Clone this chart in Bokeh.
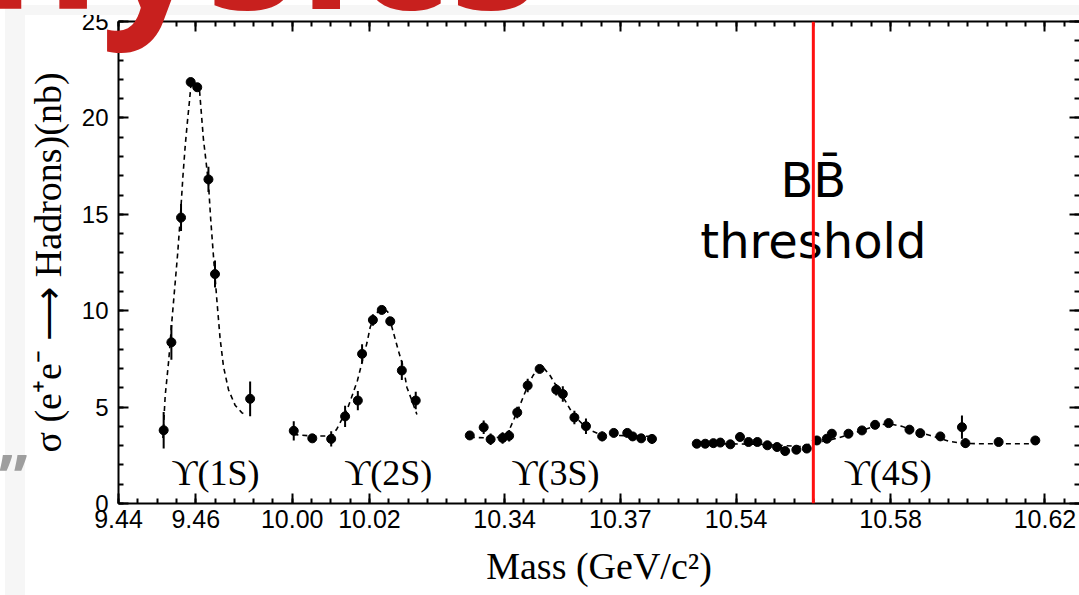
from bokeh.plotting import figure
from bokeh.models import Range1d, LinearAxis, FixedTicker, Span, Div
from bokeh.layouts import column
from bokeh.core.properties import value
from bokeh.embed import file_html
from bokeh.resources import INLINE

# ---------------- data ----------------
# Upsilon(1S) scan
mass_1s = [9.4517, 9.4537, 9.4562, 9.4587, 9.4604, 9.4633, 9.4650, 9.4741]
sigma_1s = [3.80, 8.36, 14.83, 21.86, 21.59, 16.81, 11.90, 5.43]
err_1s = [0.95, 0.90, 0.70, 0.20, 0.20, 0.65, 0.70, 0.90]
fit_mass_1s = [9.4515, 9.4521, 9.4530, 9.4538, 9.4547, 9.4553, 9.4560, 9.4567, 9.4573,
               9.4579, 9.4584, 9.4588, 9.4599, 9.4610, 9.4614, 9.4620, 9.4627, 9.4633,
               9.4639, 9.4648, 9.4655, 9.4663, 9.4672, 9.4685, 9.4702, 9.4720, 9.4731]
fit_sigma_1s = [3.4, 5.6, 7.4, 9.4, 11.5, 12.9, 14.8, 17.0, 18.6, 19.9, 20.9, 21.8, 21.8,
                21.4, 20.4, 18.9, 17.7, 16.6, 14.7, 12.3, 10.5, 8.6, 7.1, 5.9, 5.1, 4.7, 4.6]

# Upsilon(2S) scan
mass_2s = [10.0004, 10.0052, 10.0101, 10.0137, 10.0170, 10.0181, 10.0209, 10.0232,
           10.0254, 10.0284, 10.0320]
sigma_2s = [3.77, 3.38, 3.35, 4.52, 5.34, 7.76, 9.52, 10.04, 9.45, 6.90, 5.34]
err_2s = [0.50, 0.20, 0.40, 0.55, 0.50, 0.50, 0.30, 0.10, 0.20, 0.50, 0.45]
fit_mass_2s = [10.0003, 10.0051, 10.0103, 10.0116, 10.0143, 10.0157, 10.0169, 10.0194,
               10.0202, 10.0215, 10.0232, 10.0247, 10.0262, 10.0275, 10.0288, 10.0297,
               10.0310, 10.0323]
fit_sigma_2s = [3.58, 3.50, 3.50, 3.88, 4.91, 5.69, 6.38, 8.36, 9.14, 9.83, 10.09, 9.96,
                8.88, 7.93, 7.07, 6.03, 5.34, 4.62]

# Upsilon(3S) scan
mass_3s = [10.3310, 10.3346, 10.3364, 10.3395, 10.3412, 10.3433, 10.3460, 10.3491,
           10.3534, 10.3551, 10.3581, 10.3611, 10.3653, 10.3683, 10.3718, 10.3732,
           10.3754, 10.3782]
sigma_3s = [3.53, 3.95, 3.33, 3.40, 3.51, 4.72, 6.12, 6.98, 5.90, 5.68, 4.46, 4.01,
            3.48, 3.66, 3.66, 3.48, 3.38, 3.35]
err_3s = [0.20, 0.35, 0.30, 0.30, 0.30, 0.30, 0.35, 0.15, 0.30, 0.40, 0.35, 0.40,
          0.25, 0.20, 0.20, 0.20, 0.20, 0.25]
fit_mass_3s = [10.3310, 10.3370, 10.3395, 10.3412, 10.3425, 10.3440, 10.3460, 10.3474,
               10.3488, 10.3501, 10.3518, 10.3536, 10.3557, 10.3579, 10.3601, 10.3622,
               10.3648, 10.3691, 10.3778]
fit_sigma_3s = [3.43, 3.40, 3.45, 3.80, 4.40, 5.10, 6.10, 6.64, 7.04, 7.04, 6.64, 6.03,
                5.34, 4.57, 4.14, 3.79, 3.59, 3.53, 3.48]

# Upsilon(4S) scan
mass_4s = [10.5298, 10.5320, 10.5341, 10.5359, 10.5385, 10.5410, 10.5432, 10.5455,
           10.5481, 10.5506, 10.5527, 10.5556, 10.5583, 10.5609, 10.5635, 10.5648,
           10.5691, 10.5726, 10.5760, 10.5795, 10.5849, 10.5877, 10.5929, 10.5985,
           10.5994, 10.6080, 10.6175]
sigma_4s = [3.10, 3.10, 3.13, 3.16, 3.07, 3.45, 3.19, 3.19, 3.02, 2.93, 2.72, 2.79,
            2.85, 3.27, 3.36, 3.62, 3.62, 3.79, 4.08, 4.17, 3.83, 3.65, 3.48, 3.96,
            3.13, 3.19, 3.27]
err_4s = [0.15, 0.15, 0.15, 0.15, 0.15, 0.20, 0.15, 0.15, 0.15, 0.20, 0.20, 0.20,
          0.20, 0.20, 0.20, 0.20, 0.15, 0.15, 0.15, 0.15, 0.20, 0.20, 0.20, 0.60,
          0.25, 0.15, 0.20]
fit_mass_4s = [10.5298, 10.5462, 10.5566, 10.5608, 10.5661, 10.5703, 10.5739, 10.5765,
               10.5795, 10.5830, 10.5851, 10.5881, 10.5903, 10.5950, 10.5981, 10.6024,
               10.6145, 10.6175]
fit_sigma_4s = [3.12, 3.07, 2.96, 3.15, 3.38, 3.64, 3.88, 4.05, 4.14, 4.00, 3.83, 3.65,
                3.53, 3.24, 3.13, 3.10, 3.10, 3.10]

# broken mass axis: segment -> (first mass, axis slot), one slot = 0.005 GeV
segments = {"1S": (9.44, 0), "2S": (10.00, 9), "3S": (10.34, 20), "4S": (10.54, 32)}
slot_gev = 0.005

tick_segments = ["1S", "1S", "2S", "2S", "3S", "3S", "4S", "4S", "4S"]
tick_masses = [9.44, 9.46, 10.00, 10.02, 10.34, 10.37, 10.54, 10.58, 10.62]
tick_labels = ["9.44", "9.46", "10.00", "10.02", "10.34", "10.37", "10.54", "10.58", "10.62"]

state_names = ["\u03d2(1S)", "\u03d2(2S)", "\u03d2(3S)", "\u03d2(4S)"]
state_label_mass = [9.4651, 10.0249, 10.3532, 10.5793]
bb_threshold = 10.56


def to_axis(masses, seg):
    m0, u0 = segments[seg]
    return [u0 + (m - m0) / slot_gev for m in masses]


# ---------------- figure ----------------
p = figure(width=1079, height=595, output_backend="svg", toolbar_location=None,
           x_range=Range1d(0, 49.79), y_range=Range1d(0, 25),
           x_axis_type=None, y_axis_type=None,
           min_border_left=118, min_border_right=0, min_border_top=21, min_border_bottom=92)
p.outline_line_color = None
p.background_fill_color = "white"
p.border_fill_color = "white"

major_x = [round(to_axis([m], s)[0]) for s, m in zip(tick_segments, tick_masses)]
xticker = FixedTicker(ticks=major_x, minor_ticks=list(range(0, 50)))
yticker = FixedTicker(ticks=[0, 5, 10, 15, 20, 25], minor_ticks=list(range(0, 26)))


def style(ax, show_labels):
    ax.axis_line_color = "black"
    ax.axis_line_width = 2
    ax.major_tick_in = 10
    ax.major_tick_out = 0
    ax.minor_tick_in = 5
    ax.minor_tick_out = 0
    ax.major_tick_line_width = 2
    ax.minor_tick_line_width = 2
    ax.major_tick_line_color = "black"
    ax.minor_tick_line_color = "black"
    ax.major_label_text_color = "black"
    if not show_labels:
        ax.major_label_text_color = None
        ax.major_label_text_font_size = "1px"
        ax.major_label_standoff = 0
        ax.axis_label_standoff = 0


xb = LinearAxis(ticker=xticker)
style(xb, True)
xb.major_label_overrides = {u: lab for u, lab in zip(major_x, tick_labels)}
xb.major_label_text_font = "Liberation Sans"
xb.major_label_text_font_size = "25px"
xb.major_label_standoff = 6
xb.axis_label = "Mass (GeV/c\u00b2)"
xb.axis_label_text_font = "Liberation Serif"
xb.axis_label_text_font_style = "normal"
xb.axis_label_text_color = "black"
xb.axis_label_text_font_size = "38px"
xb.axis_label_standoff = 14
p.add_layout(xb, "below")

xt = LinearAxis(ticker=xticker)
style(xt, False)
p.add_layout(xt, "above")

yl = LinearAxis(ticker=yticker)
style(yl, True)
yl.major_label_text_font = "Liberation Sans"
yl.major_label_text_font_size = "24px"
yl.major_label_standoff = 10
yl.axis_label = "\u03c3 (e\u207ae\u207b \u27f6 Hadrons)(nb)"
yl.axis_label_text_font = "Liberation Serif"
yl.axis_label_text_font_style = "normal"
yl.axis_label_text_color = "black"
yl.axis_label_text_font_size = "38px"
yl.axis_label_standoff = 10
p.add_layout(yl, "left")

yr = LinearAxis(ticker=yticker)
style(yr, False)
yr.axis_line_color = None
p.add_layout(yr, "right")

# ---------------- data marks ----------------
for seg, m, s, e, fm, fs in [
    ("1S", mass_1s, sigma_1s, err_1s, fit_mass_1s, fit_sigma_1s),
    ("2S", mass_2s, sigma_2s, err_2s, fit_mass_2s, fit_sigma_2s),
    ("3S", mass_3s, sigma_3s, err_3s, fit_mass_3s, fit_sigma_3s),
    ("4S", mass_4s, sigma_4s, err_4s, fit_mass_4s, fit_sigma_4s),
]:
    u = to_axis(m, seg)
    p.line(to_axis(fm, seg), fs, line_color="black", line_width=1.6, line_dash="5 4")
    p.segment(x0=u, y0=[a - b for a, b in zip(s, e)], x1=u,
              y1=[a + b for a, b in zip(s, e)], line_color="black", line_width=2)
    p.scatter(u, s, marker="circle", size=9, fill_color="black", line_color="black")

label_x = [to_axis([m], s)[0] for m, s in zip(state_label_mass, ["1S", "2S", "3S", "4S"])]
p.text(x=label_x, y=[1.6] * 4, text=state_names, text_font=value("Liberation Serif"),
       text_font_size="36px", text_align="center", text_baseline="alphabetic",
       text_color="black")

thr_u = to_axis([bb_threshold], "4S")[0]
p.text(x=[thr_u, thr_u], y=[16.8, 13.6], text=["BB\u0304", "threshold"],
       text_font=value("DejaVu Sans"), text_font_size="48px", text_align="center",
       text_baseline="alphabetic", text_color="black")

p.add_layout(Span(location=thr_u, dimension="height", line_color="#ff1010", line_width=3))

# ---------------- slide decorations around the pasted chart ----------------
band_top = Div(text="", width=1079, height=10,
               styles={"position": "absolute", "left": "0px", "top": "0px",
                       "background-color": "#f6f6f6", "z-index": "5"})
band_left = Div(text="", width=20, height=595,
                styles={"position": "absolute", "left": "0px", "top": "0px",
                        "background-color": "#f6f6f6", "z-index": "5"})
slide_title = Div(text="Physics",
                  styles={"position": "absolute", "left": "-142px", "top": "-160px",
                          "font-family": "Open Sans", "font-weight": "bold",
                          "font-size": "185px", "line-height": "1", "color": "#c8201e",
                          "white-space": "nowrap", "z-index": "10"})
slide_quote = Div(text="\u201d",
                  styles={"position": "absolute", "left": "-6px", "top": "440px",
                          "font-family": "Open Sans", "font-weight": "bold",
                          "font-size": "64px", "line-height": "1", "color": "#9e9e9e",
                          "white-space": "nowrap", "z-index": "10"})

page = column(p, band_top, band_left, slide_title, slide_quote)
open("out.html", "w").write(file_html(page, INLINE))
